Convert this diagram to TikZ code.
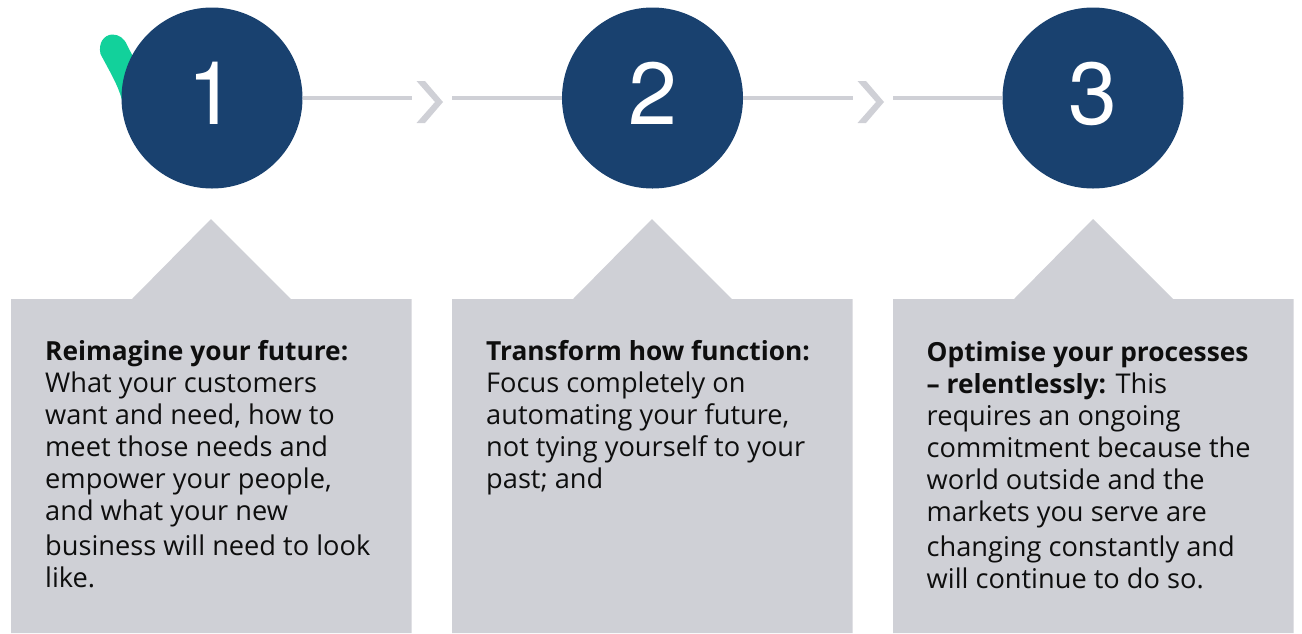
\documentclass[tikz,border=0pt]{standalone}
\usepackage{fontspec}
\setmainfont{Open Sans}
\newfontfamily\numfont{TeX Gyre Heros}
\definecolor{navy}{HTML}{19416F}
\definecolor{pale}{HTML}{CFD0D6}
\definecolor{mint}{HTML}{12D19B}
\definecolor{ink}{HTML}{0E0E0E}
\newcommand{\lead}[1]{{\fontsize{26.3}{32}\selectfont\textbf{#1}}}
\newcommand{\digit}[1]{\raisebox{10pt}{#1}}
\tikzset{
  numdisc/.style={circle,fill=navy,draw=none,minimum size=181pt,inner sep=0pt,text=white,font=\numfont\fontsize{88}{88}\selectfont},
  linkline/.style={draw=pale,line width=3.6pt},
  chev/.style={fill=pale,draw=none},
  panel/.style={fill=pale,draw=none},
  copytext/.style={anchor=north west,align=left,inner sep=0pt,text=ink,font=\fontsize{27.2}{32}\selectfont}
}
\begin{document}
\begin{tikzpicture}[x=1pt,y=-1pt]
\useasboundingbox (0,0) rectangle (1302,633);
% accent behind first disc
\fill[mint] (100.5,54) .. controls (98,43) and (104,35) .. (112,34.5)
  .. controls (119,34.5) and (124,38) .. (127,45) -- (140,70) -- (122,100)
  .. controls (118,85) and (110,72) .. (100.5,54) -- cycle;
% panels
\foreach \x in {0,441,882}{
  \fill[panel,xshift=\x pt] (11,633) -- (11,299) -- (132,299) -- (211,219) -- (291,299) -- (411.5,299) -- (411.5,633) -- cycle;
}
% discs
\node[numdisc] (c1) at (212,98) {\digit{1}};
\node[numdisc] (c2) at (652.5,98) {\digit{2}};
\node[numdisc] (c3) at (1093,98) {\digit{3}};
% connectors
\coordinate (a1) at (412,98);
\coordinate (b1) at (452,98);
\coordinate (a2) at (853,98);
\coordinate (b2) at (893,98);
\draw[linkline] (c1) -- (a1);
\draw[linkline] (b1) -- (c2);
\draw[linkline] (c2) -- (a2);
\draw[linkline] (b2) -- (c3);
\fill[chev] (416.5,81) -- (425,81) -- (443,102) -- (425,123) -- (416.5,123) -- (435,102) -- cycle;
\fill[chev] (857.5,81) -- (866,81) -- (884,102) -- (866,123) -- (857.5,123) -- (876,102) -- cycle;
% texts
\node[copytext] (t1) at (45,340) {\lead{Reimagine your future:}\\What your customers\\want and need, how to\\meet those needs and\\empower your people,\\and what your new\\[3pt]business will need to look\\like.};
\node[copytext] (t2) at (486,340) {\lead{Transform how function:}\\Focus completely on\\automating your future,\\not tying yourself to your\\past; and};
\node[copytext] (t3) at (926.5,341) {\lead{Optimise your processes}\\\lead{– relentlessly:} This\\requires an ongoing\\commitment because the\\world outside and the\\markets you serve are\\[3pt]changing constantly and\\will continue to do so.};
\end{tikzpicture}
\end{document}
